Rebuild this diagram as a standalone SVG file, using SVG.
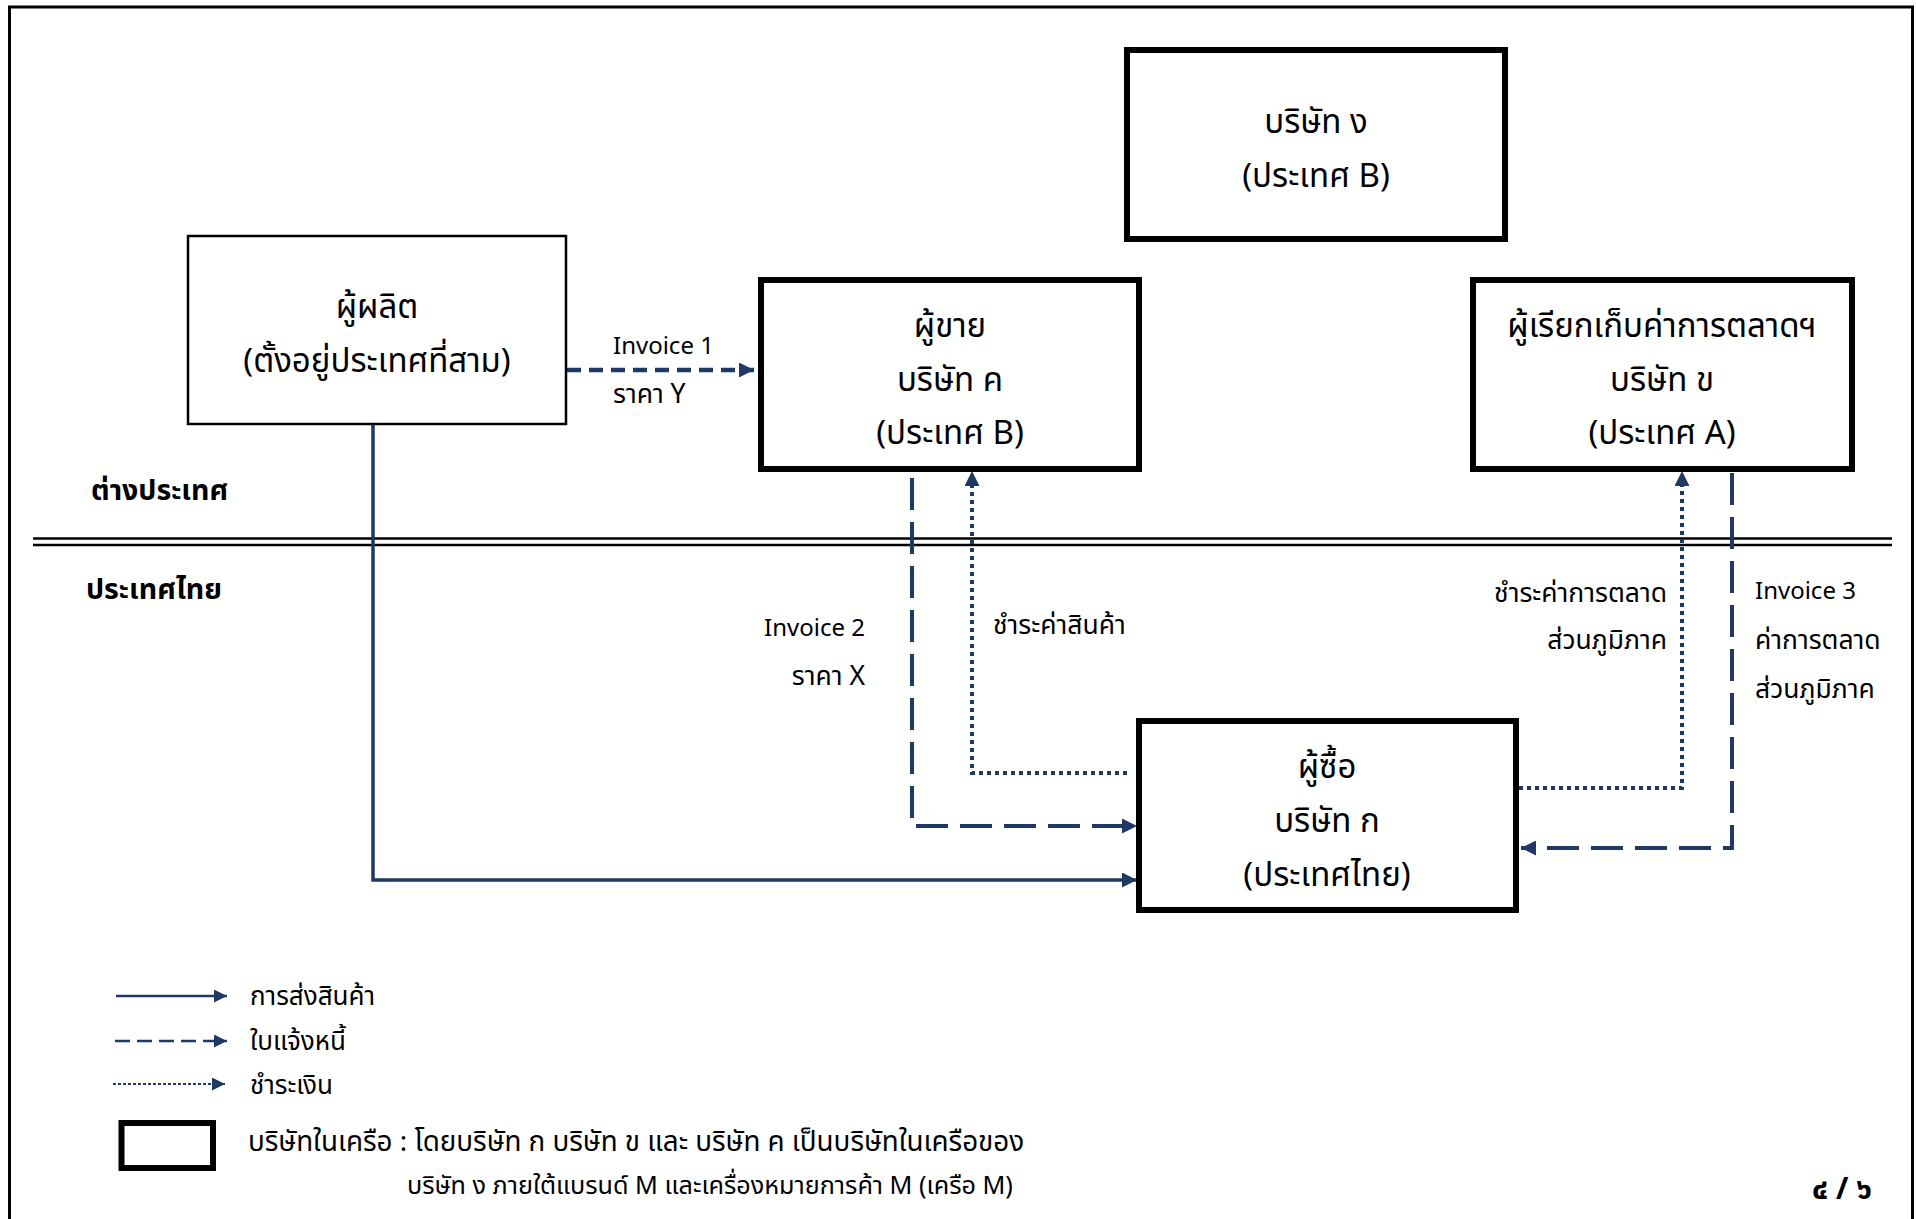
<svg xmlns="http://www.w3.org/2000/svg" width="1916" height="1219" viewBox="0 0 1916 1219">
<style>
.t{font-family:'Noto Sans Thai','Leelawadee UI','Noto Sans','DejaVu Sans',sans-serif;fill:#000}
.node{font-size:33px;text-anchor:middle}
.lbl{font-size:24px}
.lth{font-size:26.5px}
.zone{font-size:28.5px;font-weight:bold}
.leg{font-size:26px}
.leg2{font-size:27.8px}
.leg3{font-size:25.2px}
.thin{fill:#fff;stroke:#000;stroke-width:2.5}
.thick{fill:#fff;stroke:#000;stroke-width:6}
.c{fill:none;stroke:#203864}
.solid{stroke-width:3.5}
.dashS{stroke-width:4.5;stroke-dasharray:14 8}
.dashL{stroke-width:4;stroke-dasharray:32 12}
.dot{stroke-width:4;stroke-dasharray:4 4}
</style>
<defs>
<marker id="ah" viewBox="0 0 10 10" refX="10" refY="5" markerWidth="15" markerHeight="15" markerUnits="userSpaceOnUse" orient="auto"><path d="M0,0 L10,5 L0,10 z" fill="#203864"/></marker>
<marker id="ahs" viewBox="0 0 10 10" refX="10" refY="5" markerWidth="13" markerHeight="13" markerUnits="userSpaceOnUse" orient="auto"><path d="M0,0 L10,5 L0,10 z" fill="#203864"/></marker>
</defs>
<rect x="0" y="0" width="1916" height="1219" fill="#fff"/>
<rect x="9.5" y="7" width="1903" height="1230" fill="none" stroke="#000" stroke-width="3"/>
<g id="divider">
<line x1="33" y1="538.5" x2="1892" y2="538.5" stroke="#000" stroke-width="2.5"/>
<line x1="33" y1="545" x2="1892" y2="545" stroke="#000" stroke-width="2.5"/>
<text class="t zone" x="91" y="500">ต่างประเทศ</text>
<text class="t zone" x="86" y="599">ประเทศไทย</text>
</g>
<g id="connectors">
<path class="c solid" d="M373,424 V880 H1137" marker-end="url(#ah)"/>
<path class="c dashS" d="M567,370 H754" marker-end="url(#ah)"/>
<path class="c dashL" d="M912,478 V826 H1137" marker-end="url(#ah)"/>
<path class="c dot" d="M1127,773 H972 V471" marker-end="url(#ah)"/>
<path class="c dot" d="M1519,788 H1682 V471" marker-end="url(#ah)"/>
<path class="c dashL" d="M1732,473 V848 H1521" marker-end="url(#ah)"/>
<text class="t lbl" x="613" y="354">Invoice 1</text>
<text class="t lth" x="613" y="403">ราคา Y</text>
<text class="t lbl" x="865" y="636" text-anchor="end">Invoice 2</text>
<text class="t lth" x="865" y="685" text-anchor="end">ราคา X</text>
<text class="t lth" x="993" y="634">ชำระค่าสินค้า</text>
<text class="t lth" x="1667" y="602" text-anchor="end">ชำระค่าการตลาด</text>
<text class="t lth" x="1667" y="649" text-anchor="end">ส่วนภูมิภาค</text>
<text class="t lbl" x="1755" y="599">Invoice 3</text>
<text class="t lth" x="1755" y="649">ค่าการตลาด</text>
<text class="t lth" x="1755" y="698">ส่วนภูมิภาค</text>
</g>
<g id="producer">
<rect class="thin" x="188" y="236" width="378" height="188"/>
<text class="t node" x="377" y="318">ผู้ผลิต</text>
<text class="t node" x="377" y="372">(ตั้งอยู่ประเทศที่สาม)</text>
</g>
<g id="seller">
<rect class="thick" x="761" y="280" width="378" height="189"/>
<text class="t node" x="950" y="337">ผู้ขาย</text>
<text class="t node" x="950" y="391">บริษัท ค</text>
<text class="t node" x="950" y="444">(ประเทศ B)</text>
</g>
<g id="company-d">
<rect class="thick" x="1127" y="50" width="378" height="189"/>
<text class="t node" x="1316" y="133">บริษัท ง</text>
<text class="t node" x="1316" y="187">(ประเทศ B)</text>
</g>
<g id="marketing">
<rect class="thick" x="1473" y="280" width="379" height="189"/>
<text class="t node" x="1662" y="337">ผู้เรียกเก็บค่าการตลาดฯ</text>
<text class="t node" x="1662" y="391">บริษัท ข</text>
<text class="t node" x="1662" y="444">(ประเทศ A)</text>
</g>
<g id="buyer">
<rect class="thick" x="1139" y="721" width="377" height="189"/>
<text class="t node" x="1327" y="778">ผู้ซื้อ</text>
<text class="t node" x="1327" y="832">บริษัท ก</text>
<text class="t node" x="1327" y="886">(ประเทศไทย)</text>
</g>
<g id="legend">
<line class="c" x1="116" y1="996" x2="227" y2="996" stroke-width="2.5" marker-end="url(#ahs)"/>
<line class="c" x1="115" y1="1041" x2="227" y2="1041" stroke-width="2.5" stroke-dasharray="15 7" marker-end="url(#ahs)"/>
<line class="c" x1="113" y1="1084" x2="225" y2="1084" stroke-width="2.2" stroke-dasharray="3 2" marker-end="url(#ahs)"/>
<text class="t leg" x="250" y="1005">การส่งสินค้า</text>
<text class="t leg" x="250" y="1050">ใบแจ้งหนี้</text>
<text class="t leg" x="250" y="1094">ชำระเงิน</text>
<rect class="thick" x="121.5" y="1123" width="91.5" height="45"/>
<text class="t leg2" x="248" y="1151">บริษัทในเครือ : โดยบริษัท ก บริษัท ข และ บริษัท ค เป็นบริษัทในเครือของ</text>
<text class="t leg3" x="407" y="1194">บริษัท ง ภายใต้แบรนด์ M และเครื่องหมายการค้า M (เครือ M)</text>
<text class="t" x="1872" y="1199" font-size="30" font-weight="bold" text-anchor="end">๔ / ๖</text>
</g>
</svg>
